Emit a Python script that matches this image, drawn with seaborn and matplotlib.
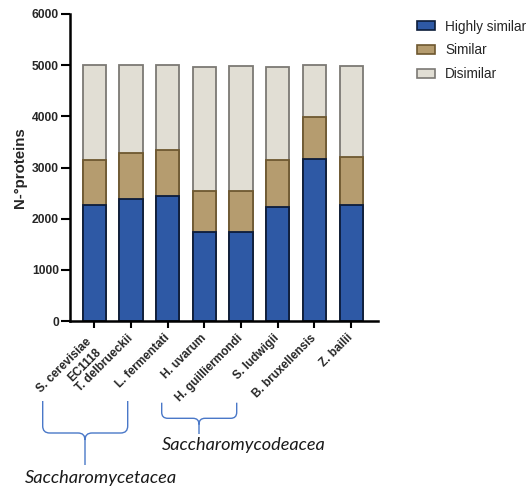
import matplotlib
matplotlib.use("Agg")
import matplotlib.pyplot as plt
from matplotlib.path import Path
from matplotlib.patches import PathPatch, Patch
from matplotlib.transforms import Affine2D
import numpy as np
import pandas as pd
import seaborn as sns

# Protein counts per yeast genome, split by similarity class
species = ["S. cerevisiae\nEC1118", "T. delbrueckii", "L. fermentati", "H. uvarum",
           "H. guilliermondi", "S. ludwigii", "B. bruxellensis", "Z. bailii"]
highly_similar = [2260, 2390, 2440, 1740, 1740, 2220, 3160, 2270]
similar = [880, 890, 910, 800, 800, 920, 820, 930]
disimilar = [1860, 1720, 1650, 2430, 2450, 1830, 1030, 1780]

series_names = ["Highly similar", "Similar", "Disimilar"]
fill_colors = ["#2e59a5", "#b59c6f", "#e1ded4"]
edge_colors = ["#0c1c3a", "#6e5830", "#7c7974"]

W, H = 529, 488

sns.set_theme(style="ticks")
plt.rcParams["font.family"] = ["Liberation Sans", "DejaVu Sans"]

df = pd.DataFrame({"species": species, "Highly similar": highly_similar,
                   "Similar": similar, "Disimilar": disimilar})
df["top_hs"] = df["Highly similar"]
df["top_s"] = df["top_hs"] + df["Similar"]
df["top_d"] = df["top_s"] + df["Disimilar"]

fig = plt.figure(figsize=(W / 100, H / 100), dpi=100)
ax = fig.add_axes([70 / W, 1 - 321 / H, (378 - 70) / W, (321 - 14) / H])

# stacked bars: draw cumulative heights from the top segment downward
for col, fc, ec in [("top_d", fill_colors[2], edge_colors[2]),
                    ("top_s", fill_colors[1], edge_colors[1]),
                    ("top_hs", fill_colors[0], edge_colors[0])]:
    sns.barplot(data=df, x="species", y=col, color=fc, edgecolor=ec,
                linewidth=1.3, width=0.635, errorbar=None, saturation=1, ax=ax)

ax.set_xlim(-0.66, 7.73)
ax.set_ylim(0, 6000)
ax.set_yticks(np.arange(0, 6001, 1000))
ax.set_xlabel("")
ax.set_ylabel("N-°proteins", fontsize=10.8, fontweight="bold", labelpad=3.5)
sns.despine(ax=ax)
for s in ["left", "bottom"]:
    ax.spines[s].set_linewidth(1.8)
    ax.spines[s].set_color("black")
ax.tick_params(axis="y", length=6.5, width=1.5, labelsize=8.7, pad=1.5, color="black")
ax.tick_params(axis="x", length=5, width=1.5, labelsize=8.5, pad=6, color="black")
for lab in ax.get_yticklabels():
    lab.set_fontweight("bold")
ax.set_xticks(range(len(species)))
ax.set_xticklabels(species, rotation=45, ha="right", va="center",
                   rotation_mode="anchor", fontweight="bold", fontsize=8.5)

handles = [Patch(facecolor=fc, edgecolor=ec, linewidth=1.2)
           for fc, ec in zip(fill_colors, edge_colors)]
fig.legend(handles, series_names, loc="upper left",
           bbox_to_anchor=(417 / W, 1 - 19.5 / H), frameon=False, fontsize=9.8,
           handlelength=1.32, handleheight=0.6, handletextpad=0.75,
           labelspacing=0.72, borderpad=0, borderaxespad=0)


def px(x, y):
    return (x / W, 1 - y / H)


def brace(x0, x1, ytop, ymid, xc, ytip, r=6):
    verts = [px(x0, ytop), px(x0, ymid - r), px(x0, ymid), px(x0 + r, ymid),
             px(xc - r, ymid), px(xc, ymid), px(xc, ymid + r), px(xc, ytip),
             px(xc, ymid + r), px(xc, ymid), px(xc + r, ymid),
             px(x1 - r, ymid), px(x1, ymid), px(x1, ymid - r), px(x1, ytop)]
    codes = [Path.MOVETO, Path.LINETO, Path.CURVE3, Path.CURVE3,
             Path.LINETO, Path.CURVE3, Path.CURVE3, Path.LINETO,
             Path.MOVETO, Path.CURVE3, Path.CURVE3,
             Path.LINETO, Path.CURVE3, Path.CURVE3, Path.LINETO]
    fig.add_artist(PathPatch(Path(verts, codes), facecolor="none",
                             edgecolor="#4a78c8", linewidth=1.0,
                             transform=fig.transFigure))


brace(42.7, 127.7, 401, 433, 85, 465, r=7)
brace(161.7, 236.7, 402.7, 418.3, 199, 434, r=6)

fam_font = ["Lato", "DejaVu Sans"]
t1 = fig.text(*px(101, 478), "Saccharomycetacea", ha="center", va="center",
              style="italic", fontsize=13, family=fam_font, color="#1a1a1a")
t2 = fig.text(*px(243.5, 445), "Saccharomycodeacea", ha="center", va="center",
              style="italic", fontsize=13, family=fam_font, color="#1a1a1a")

# scale the family captions to their spans under the braces
fig.canvas.draw()
rend = fig.canvas.get_renderer()
for t, target in [(t1, 152), (t2, 163)]:
    w = t.get_window_extent(rend).width
    t.set_fontsize(t.get_fontsize() * target / w)

# the two-line strain label sits a little lower than the others
first = ax.get_xticklabels()[0]
first.set_transform(first.get_transform() + Affine2D().translate(0, -9))

fig.savefig("out.png", dpi=100)
